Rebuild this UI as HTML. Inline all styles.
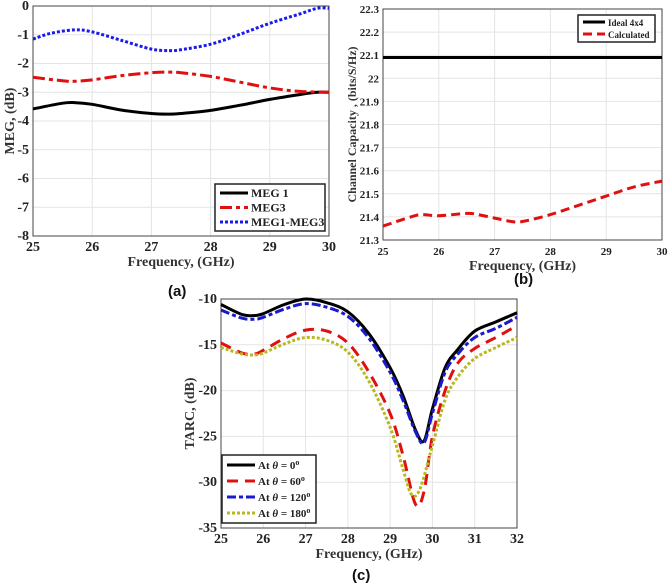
<!DOCTYPE html>
<html><head><meta charset="utf-8">
<style>
html,body{margin:0;padding:0;background:#fff;}
svg{display:block;font-family:"Liberation Serif",serif;}
.tick{font-size:13px;font-weight:bold;fill:#222;}
.ttl{font-size:14px;font-weight:bold;fill:#333;}
.pl{font-family:"Liberation Sans",sans-serif;font-size:15px;font-weight:bold;fill:#111;}
</style></head><body>
<svg id="fig" width="669" height="584" viewBox="0 0 669 584">
<text class="pl" x="168" y="296">(a)</text>
<text class="pl" x="514" y="284">(b)</text>
<text class="pl" x="352" y="580">(c)</text>
</svg>
<script>
// ---- Panel (a) data ----
const aX1=[25,25.5,25.7,26,26.5,27,27.3,27.5,28,28.5,29,29.5,29.8,30];
const aMEG1=[-3.58,-3.38,-3.36,-3.42,-3.62,-3.74,-3.76,-3.74,-3.63,-3.45,-3.25,-3.08,-3.0,-3.0];
const aX3=[25,25.5,25.7,26,26.5,27,27.3,27.5,28,28.5,29,29.5,30];
const aMEG3=[-2.48,-2.6,-2.62,-2.57,-2.42,-2.32,-2.3,-2.32,-2.45,-2.65,-2.85,-2.97,-3.0];
const aXd=[25,25.3,25.7,26,26.5,27,27.3,27.5,28,28.5,29,29.5,29.8,30];
const aDiff=[-1.15,-0.95,-0.83,-0.9,-1.2,-1.5,-1.55,-1.52,-1.33,-0.98,-0.6,-0.28,-0.08,-0.08];
const aXTicks=[25,26,27,28,29,30];
const aYTicks=[0,-1,-2,-3,-4,-5,-6,-7,-8];
// ---- Panel (b) data ----
const bX=[25,25.5,25.7,26,26.5,26.7,27,27.3,27.5,28,28.5,29,29.5,30];
const bCalc=[21.36,21.40,21.41,21.405,21.415,21.41,21.395,21.38,21.38,21.41,21.45,21.49,21.53,21.555];
const bIdealX=[25,30];
const bIdeal=[22.09,22.09];
const bXTicks=[25,26,27,28,29,30];
const bYTicks=[22.3,22.2,22.1,22,21.9,21.8,21.7,21.6,21.5,21.4,21.3];
// ---- Panel (c) data ----
const cX=[25,25.5,25.8,26,26.5,27,27.5,28,28.5,29,29.3,29.6,29.8,30,30.3,30.6,31,31.5,32];
const c0=[-10.6,-11.7,-11.8,-11.6,-10.6,-10.0,-10.4,-11.4,-13.8,-17.5,-20.5,-24.3,-25.5,-22,-17.5,-15.5,-13.5,-12.5,-11.5];
const c120=[-11.2,-12.1,-12.2,-12.0,-11.1,-10.5,-10.9,-11.9,-14.3,-18,-21,-24.5,-25.7,-22.5,-18,-16,-14.2,-13.2,-12];
const c60=[-14.8,-15.9,-16.0,-15.6,-14.3,-13.4,-13.5,-14.8,-18,-22.5,-27,-32.4,-31,-25,-20,-17,-15.4,-14.2,-12.9];
const cX180=[25,25.5,25.8,26,26.5,27,27.5,28,28.5,29,29.3,29.5,29.7,30,30.3,30.6,31,31.5,32];
const c180=[-15.3,-16.0,-16.1,-15.9,-14.9,-14.2,-14.5,-15.8,-19,-24,-28.5,-31.3,-30.8,-26,-21,-18.5,-16.5,-15.3,-14.2];
const cXTicks=[25,26,27,28,29,30,31,32];
const cYTicks=[-10,-15,-20,-25,-30,-35];

const NS="http://www.w3.org/2000/svg";
const svg=document.getElementById('fig');
function mk(tag,attrs,parent){const e=document.createElementNS(NS,tag);for(const k in attrs)e.setAttribute(k,attrs[k]);(parent||svg).appendChild(e);return e;}
function smooth(pts){
  let d="M"+pts[0][0].toFixed(1)+","+pts[0][1].toFixed(1);
  for(let i=0;i<pts.length-1;i++){
    const p0=pts[Math.max(0,i-1)],p1=pts[i],p2=pts[i+1],p3=pts[Math.min(pts.length-1,i+2)];
    const c1=[p1[0]+(p2[0]-p0[0])/6,p1[1]+(p2[1]-p0[1])/6];
    const c2=[p2[0]-(p3[0]-p1[0])/6,p2[1]-(p3[1]-p1[1])/6];
    d+=" C"+c1[0].toFixed(1)+","+c1[1].toFixed(1)+" "+c2[0].toFixed(1)+","+c2[1].toFixed(1)+" "+p2[0].toFixed(1)+","+p2[1].toFixed(1);
  }
  return d;
}
function panel(o){
  const g=mk('g',{});
  
  
  const sx=v=>o.L+(v-o.xmin)/(o.xmax-o.xmin)*(o.R-o.L);
  const sy=v=>o.B-(v-o.ymin)/(o.ymax-o.ymin)*(o.B-o.T);
  o.xt.forEach(t=>{const l=mk('line',{x1:sx(t),x2:sx(t),y1:o.T,y2:o.B,stroke:'#e4e4e4','stroke-width':1},g);
    
    const tx=mk('text',{x:sx(t),y:o.B+15,'text-anchor':'middle',class:'tick',style:o.xtf||''},g);tx.textContent=t;
    });
  o.yt.forEach(t=>{const l=mk('line',{x1:o.L,x2:o.R,y1:sy(t),y2:sy(t),stroke:'#e4e4e4','stroke-width':1},g);
    
    const tx=mk('text',{x:o.L-4,y:sy(t)+4,'text-anchor':'end',class:'tick',style:o.ytf||''},g);tx.textContent=t;
    });
  const fr=mk('rect',{x:o.L,y:o.T,width:o.R-o.L,height:o.B-o.T,fill:'none',stroke:'#444','stroke-width':1},g);
  
  o.series.forEach(s=>{
    const pts=s.x.map((x,i)=>[sx(x),sy(s.y[i])]);
    const p=mk('path',{d:smooth(pts),fill:'none',stroke:s.c,'stroke-width':s.w||3,'stroke-dasharray':s.da||'none'},g);
    
  });
  const xt=mk('text',{x:(o.L+o.R)/2,y:o.B+30,'text-anchor':'middle',class:'ttl'},g);xt.textContent=o.xtitle;
  
  const yt=mk('text',{x:0,y:0,'text-anchor':'middle',class:'ttl',transform:`translate(${o.ytx},${(o.T+o.B)/2}) rotate(-90)`,style:o.ytfs||''},g);yt.textContent=o.ytitle;
  
  const lg=o.leg;
  const lgg=mk('g',{},g);
  
  mk('rect',{x:lg.x,y:lg.y,width:lg.w,height:lg.h,fill:'#fff',stroke:'#222','stroke-width':1.5},lgg);
  o.series.forEach((s,i)=>{
    const yy=lg.y+lg.pad+i*lg.dy;
    mk('line',{x1:lg.x+5,x2:lg.x+5+lg.ll,y1:yy,y2:yy,stroke:s.c,'stroke-width':s.w||3,'stroke-dasharray':s.da||'none'},lgg);
    const t=mk('text',{x:lg.x+8+lg.ll,y:yy+4,style:`font-size:${lg.fs}px;font-weight:bold;fill:#222`},lgg);
    t.innerHTML=s.label;
    
  });
}
panel({name:'meg-chart',L:33,R:329,T:6,B:236,xmin:25,xmax:30,ymin:-8,ymax:0,xt:aXTicks,yt:aYTicks,
  ytf:'font-size:14px',xtf:'font-size:14px',
  xtitle:'Frequency, (GHz)',ytitle:'MEG, (dB)',ytx:14,
  series:[{name:'meg1-line',x:aX1,y:aMEG1,c:'#000',label:'MEG 1'},
          {name:'meg3-line',x:aX3,y:aMEG3,c:'#e01010',da:'12 4 4 4',label:'MEG3'},
          {name:'meg1-meg3-line',x:aXd,y:aDiff,c:'#1a1aee',da:'3 2',label:'MEG1-MEG3'}],
  leg:{x:215,y:184,w:110,h:47,pad:9,dy:14.5,ll:28,fs:12}});
panel({name:'channel-capacity-chart',L:383,R:662,T:9,B:240,xmin:25,xmax:30,ymin:21.3,ymax:22.3,xt:bXTicks,yt:bYTicks,
  ytf:'font-size:11px',xtf:'font-size:11px',ytfs:'font-size:12px',
  xtitle:'Frequency, (GHz)',ytitle:'Channel Capacity , (bits/S/Hz)',ytx:356,
  series:[{name:'ideal-4x4-line',x:bIdealX,y:bIdeal,c:'#000',label:'Ideal 4x4'},
          {name:'calculated-line',x:bX,y:bCalc,c:'#e01010',da:'9 5',label:'Calculated'}],
  leg:{x:578,y:15,w:77,h:27,pad:7,dy:12,ll:22,fs:9}});
panel({name:'tarc-chart',L:221,R:517,T:299,B:528,xmin:25,xmax:32,ymin:-35,ymax:-10,xt:cXTicks,yt:cYTicks,
  ytf:'font-size:14px',xtf:'font-size:14px',
  xtitle:'Frequency, (GHz)',ytitle:'TARC, (dB)',ytx:194,
  series:[{name:'theta-0-line',x:cX,y:c0,c:'#000',label:'At <tspan font-style="italic">θ</tspan> = 0<tspan dy="-4" font-size="8">o</tspan>'},
          {name:'theta-60-line',x:cX,y:c60,c:'#e01010',da:'11 7',label:'At <tspan font-style="italic">θ</tspan> = 60<tspan dy="-4" font-size="8">o</tspan>'},
          {name:'theta-120-line',x:cX,y:c120,c:'#1a1acc',da:'9 3 4 3',label:'At <tspan font-style="italic">θ</tspan> = 120<tspan dy="-4" font-size="8">o</tspan>'},
          {name:'theta-180-line',x:cX180,y:c180,c:'#b8b820',da:'3 2',label:'At <tspan font-style="italic">θ</tspan> = 180<tspan dy="-4" font-size="8">o</tspan>'}],
  leg:{x:222,y:455,w:94,h:68,pad:10,dy:16,ll:28,fs:11}});
</script>
</body></html>
